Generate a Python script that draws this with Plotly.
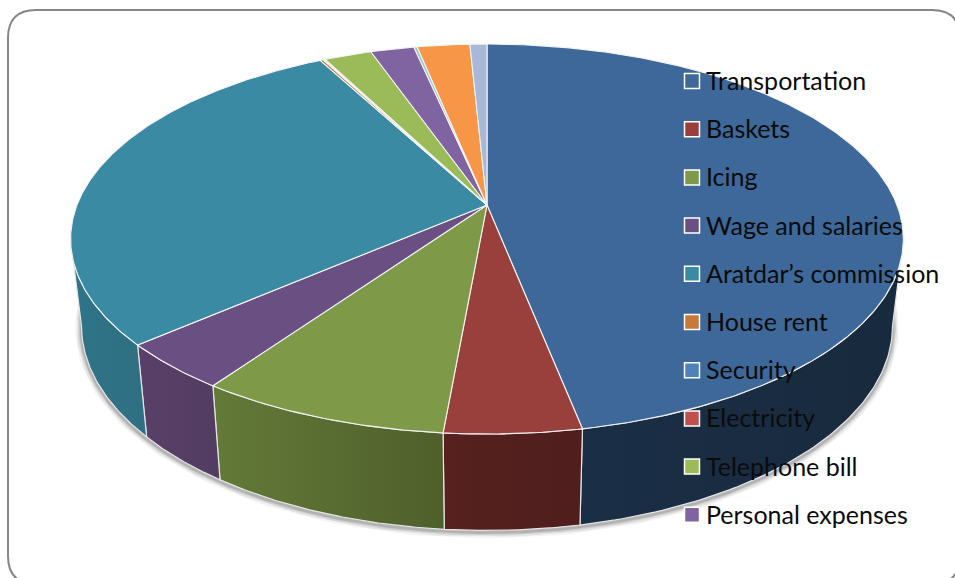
import numpy as np
import plotly.graph_objects as go

categories = ["Transportation", "Baskets", "Icing", "Wage and salaries", "Aratdar’s commission",
              "House rent", "Security", "Electricity", "Telephone bill", "Personal expenses",
              "Other item 11", "Other item 12", "Other item 13"]
values = [46.9, 4.5, 8.3, 3.9, 28.6, 0.15, 0.05, 0.05, 2.18, 2.0, 0.15, 2.42, 0.78]
legend_count = 10

top_colors = ["#3d6899", "#9a403c", "#7e9947", "#6a4f82", "#3a8aa3", "#c8793a", "#a8d4e0",
              "#c0504d", "#9bbb59", "#8064a2", "#8fc6d8", "#f79646", "#a7b8d8"]
legend_colors = ["#3d6899", "#9a403c", "#7e9947", "#6a4f82", "#3a8aa3", "#c8793a", "#4f81bd",
                 "#c0504d", "#9bbb59", "#8064a2"]
side_colors = {0: ("#1a2e46", "#182a3d"), 1: ("#56211f", "#4f1e1d"), 2: ("#637a38", "#4f5f2b"),
               3: ("#5a4068", "#523c62"), 4: ("#2e7488", "#306f82")}

W, H = 955, 578
CX, CY = 487.0, 205.0        # apex of the pie on screen
BX, AY, PERSP = 410.0, -153.3, 0.1744
SIDE_SX, SIDE_SY = 0.974, 1.05
SIDE_Y_FROM, SIDE_Y_TO = 345.0, 437.0
VIS_FROM, VIS_TO = 100.0, 260.0
KEY_X, TEXT_X, ROW_TOP, ROW_STEP = 692, 704, 80, 48.2


def project(deg):
    t = np.radians(deg)
    u, v = np.sin(t), np.cos(t)
    d = 1 + PERSP * v
    return CX + BX * u / d, (CY + AY * v) / d


def lower(x, y):
    return CX + SIDE_SX * (x - CX), SIDE_Y_TO + SIDE_SY * (y - SIDE_Y_FROM)


shares = np.array(values, dtype=float)
edges = np.concatenate([[0], np.cumsum(shares) / shares.sum() * 360])

fig = go.Figure()

# soft shadow below the rim
sx, sy = lower(*project(np.linspace(VIS_FROM - 12, VIS_TO + 12, 240)))
for width, alpha in [(13, 0.06), (10, 0.08), (7, 0.12), (4, 0.2)]:
    fig.add_trace(go.Scatter(x=sx, y=sy + 1.5, mode="lines", showlegend=False, hoverinfo="skip",
                             line=dict(color=f"rgba(60,60,60,{alpha})", width=width)))

# rim
for i in sorted(side_colors):
    a, b = max(edges[i], VIS_FROM), min(edges[i + 1], VIS_TO)
    th = np.linspace(a, b, 80)
    tx, ty = project(th)
    bx, by = lower(tx, ty)
    c1, c2 = side_colors[i]
    fig.add_trace(go.Scatter(
        x=np.concatenate([tx, bx[::-1], tx[:1]]), y=np.concatenate([ty, by[::-1], ty[:1]]),
        mode="lines", fill="toself", line=dict(color="#e6e6e6", width=1.2),
        fillgradient=dict(type="horizontal", colorscale=[[0, c1], [1, c2]]),
        showlegend=False, hoverinfo="skip"))

# top face
for i, name in enumerate(categories):
    th = np.linspace(edges[i], edges[i + 1], max(3, int((edges[i + 1] - edges[i]) * 2)))
    tx, ty = project(th)
    fig.add_trace(go.Scatter(
        x=np.concatenate([[CX], tx, [CX]]), y=np.concatenate([[CY], ty, [CY]]),
        mode="lines", fill="toself", fillcolor=top_colors[i], name=name,
        line=dict(color="#f4f4f4", width=1.1), showlegend=False, hoverinfo="name"))

# legend keys and labels
rows = ROW_TOP + ROW_STEP * np.arange(legend_count)
fig.add_trace(go.Scatter(
    x=[KEY_X] * legend_count, y=rows + 1, mode="markers", showlegend=False, hoverinfo="skip",
    marker=dict(symbol="square", size=15, color=legend_colors, line=dict(color="white", width=1.5))))
labels = [dict(x=TEXT_X, y=float(rows[i]), text=categories[i], showarrow=False, xanchor="left",
               yanchor="middle", xref="x", yref="y", font=dict(family="Lato", size=25, color="#0b0b0b"))
          for i in range(legend_count)]

r = 28
L, T, R, B = 8, 10, 960, 584
frame = (f"M{L},{T+r} Q{L},{T} {L+r},{T} L{R-r},{T} Q{R},{T} {R},{T+r} "
         f"L{R},{B-r} Q{R},{B} {R-r},{B} L{L+r},{B} Q{L},{B} {L},{B-r} Z")

fig.update_layout(
    width=W, height=H, margin=dict(l=0, r=0, t=0, b=0),
    paper_bgcolor="white", plot_bgcolor="white", showlegend=False,
    xaxis=dict(range=[0, W], visible=False, fixedrange=True),
    yaxis=dict(range=[H, 0], visible=False, fixedrange=True),
    shapes=[dict(type="path", path=frame, line=dict(color="#878787", width=2), layer="below")],
    annotations=labels,
)
fig.write_html("out.html", config=dict(displayModeBar=False),
               post_script="document.body.style.margin='0';document.body.style.overflow='hidden';")
